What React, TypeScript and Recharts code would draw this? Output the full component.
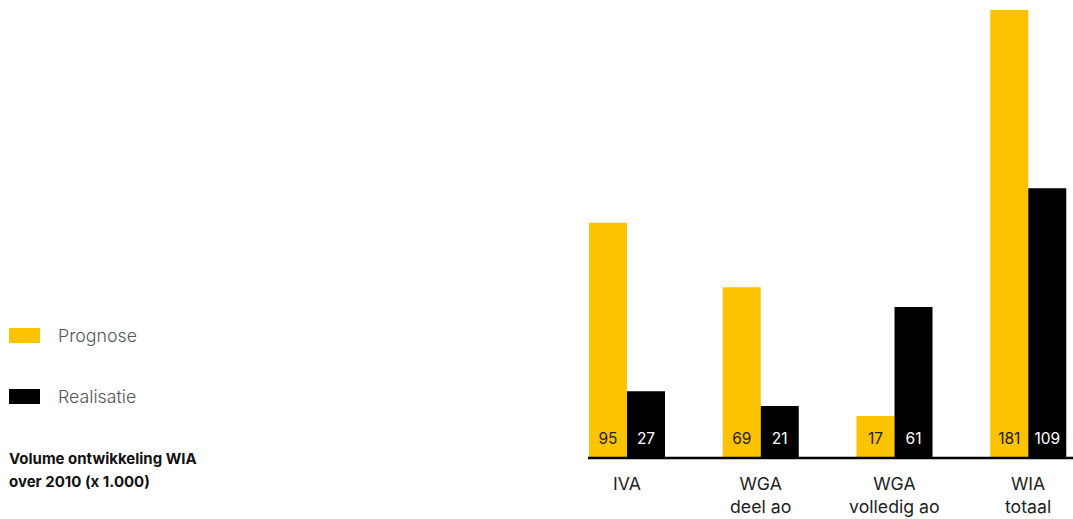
import { BarChart, Bar, XAxis, YAxis, Legend, LabelList } from 'recharts';

const categories = ['IVA', 'WGA\ndeel ao', 'WGA\nvolledig ao', 'WIA\ntotaal'];
const prognose = [95, 69, 17, 181];
const realisatie = [27, 21, 61, 109];

const YELLOW = '#FDC300';
const FONT = 'Inter, "Noto Sans", sans-serif';

const data = categories.map((name, i) => ({
  name,
  prognose: prognose[i],
  realisatie: realisatie[i],
}));

function CategoryTick(props: any) {
  const { x, y, payload } = props;
  const lines = String(payload.value).split('\n');
  return (
    <g>
      {lines.map((line, i) => (
        <text
          key={i}
          x={x}
          y={y + 25 + i * 23}
          textAnchor="middle"
          dominantBaseline="central"
          fill="#222"
          fontSize={17.7}
          fontFamily={FONT}
        >
          {line}
        </text>
      ))}
    </g>
  );
}

function makeValueLabel(color: string) {
  return (props: any) => {
    const { x, y, width, height, value } = props;
    return (
      <text
        x={x + width / 2}
        y={y + height - 20}
        textAnchor="middle"
        dominantBaseline="central"
        fill={color}
        fontSize={15.5}
        fontFamily={FONT}
      >
        {value}
      </text>
    );
  };
}

function LegendBox() {
  const item = (color: string, label: string, top: number) => (
    <div style={{ position: 'absolute', left: 9, top, height: 15, display: 'flex', alignItems: 'center' }}>
      <div style={{ width: 31, height: 15, background: color }} />
      <span
        style={{
          marginLeft: 18,
          fontSize: 17.8,
          fontWeight: 300,
          color: '#555',
          fontFamily: FONT,
          whiteSpace: 'nowrap',
        }}
      >
        {label}
      </span>
    </div>
  );
  return (
    <div style={{ position: 'relative', width: 300, height: 519 }}>
      {item(YELLOW, 'Prognose', 328)}
      {item('#000', 'Realisatie', 389)}
      <div
        style={{
          position: 'absolute',
          left: 9,
          top: 447,
          fontSize: 15,
          lineHeight: '23px',
          fontWeight: 700,
          color: '#111',
          fontFamily: FONT,
          whiteSpace: 'nowrap',
        }}
      >
        Volume ontwikkeling WIA
        <br />
        over 2010 (x 1.000)
      </div>
    </div>
  );
}

export default function App() {
  return (
    <div style={{ position: 'absolute', left: 0, top: 0, width: 1073, height: 519, overflow: 'hidden', background: '#fff' }}>
      <BarChart
        width={1073}
        height={519}
        data={data}
        margin={{ top: 10, right: 0, bottom: 0, left: 588 }}
        barGap={0}
        barSize={38}
      >
        <XAxis
          dataKey="name"
          height={61}
          interval={0}
          tickSize={0}
          tickMargin={0}
          tickLine={false}
          axisLine={{ stroke: '#000', strokeWidth: 2.5 }}
          padding={{ left: -28, right: -22 }}
          tick={<CategoryTick />}
        />
        <YAxis hide domain={[0, 181]} />
        <Legend
          layout="vertical"
          align="center"
          verticalAlign="middle"
          wrapperStyle={{ left: 0, top: 0, width: 300, height: 519 }}
          content={() => <LegendBox />}
        />
        <Bar dataKey="prognose" name="Prognose" fill={YELLOW} isAnimationActive={false}>
          <LabelList dataKey="prognose" content={makeValueLabel('#222')} />
        </Bar>
        <Bar dataKey="realisatie" name="Realisatie" fill="#000" isAnimationActive={false}>
          <LabelList dataKey="realisatie" content={makeValueLabel('#fff')} />
        </Bar>
      </BarChart>
    </div>
  );
}
